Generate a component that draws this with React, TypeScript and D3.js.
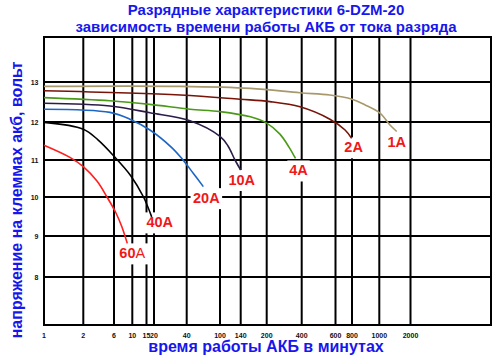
import React from "react";
import * as d3 from "d3";

// ---- data ----
const xTicks = [1, 2, 6, 10, 15, 20, 40, 100, 140, 200, 400, 600, 800, 1000, 2000];
const yTicks = [8, 9, 10, 11, 12, 13];

const t1A = [1, 35, 160, 387, 561, 800, 888, 1016, 1268, 1472];
const v1A = [12.89, 12.89, 12.84, 12.73, 12.675, 12.57, 12.43, 12.22, 11.92, 11.75];
const t2A = [1, 35, 138, 213, 387, 561, 709, 795];
const v2A = [12.78, 12.675, 12.57, 12.51, 12.38, 12.07, 11.79, 11.57];
const t4A = [1, 5.2, 17.1, 43.8, 100, 160, 200, 260, 311, 354];
const v4A = [12.61, 12.53, 12.44, 12.32, 12.26, 12.13, 11.97, 11.68, 11.34, 11.04];
const t10A = [1, 5.2, 17.1, 43.8, 100, 113.9, 127.6, 140];
const v10A = [12.47, 12.4, 12.23, 12.03, 11.62, 11.37, 11.0, 10.73];
const t20A = [1, 5.2, 9.34, 17.1, 29.3, 37, 47.6, 63.2];
const v20A = [12.32, 12.24, 12.07, 11.79, 11.32, 11.0, 10.65, 10.28];
const t40A = [1, 2, 3.38, 6, 9.62, 13.77, 18.3];
const v40A = [11.99, 11.81, 11.53, 11.1, 10.57, 10.0, 9.49];
const t60A = [1, 1.58, 2, 3.26, 4.67, 6.34, 7.49, 8.69];
const v60A = [11.39, 11.07, 10.82, 10.43, 10.0, 9.59, 9.23, 8.82];

const seriesNames = ["1A", "2A", "4A", "10A", "20A", "40A", "60A"];

// ---- layout / style ----
const xTickPx = [44, 83.3, 114, 132.3, 146.5, 154, 186.7, 220, 240.7, 266.7, 301.7, 335.5, 352, 379.3, 410.5];
const yTickPx = [277, 236, 197, 160, 122, 82];
const frame = { left: 44, right: 491, top: 37, bottom: 325 };
const colors = ["#a8996c", "#771408", "#4a9a18", "#2c1c48", "#1c66c6", "#000000", "#ff1e1e"];
const labelOffsets: [number, number][] = [
  [0, 15.5], [2, 14], [3, 17], [1, 15], [3, 16.5], [8, 10.5], [5, 15],
];
const BLUE = "#1717ec";
const RED = "#f01818";
const FONT = "'Liberation Sans', Arial, sans-serif";

const logX = d3.scaleLinear().domain(xTicks.map((v) => Math.log(v))).range(xTickPx);
const x = (v: number) => logX(Math.log(v));
const y = d3.scaleLinear().domain(yTicks).range(yTickPx);

const seriesT = [t1A, t2A, t4A, t10A, t20A, t40A, t60A];
const seriesV = [v1A, v2A, v4A, v10A, v20A, v40A, v60A];

const line = d3
  .line<[number, number]>()
  .x((d) => x(d[0]))
  .y((d) => y(d[1]))
  .curve(d3.curveCatmullRom.alpha(0.5));

export default function App() {
  const series = seriesNames.map((name, i) => ({
    name,
    color: colors[i],
    pts: seriesT[i].map((t, j) => [t, seriesV[i][j]] as [number, number]),
  }));

  const labels = series.map((s, i) => {
    const last = s.pts[s.pts.length - 1];
    const cx = x(last[0]) + labelOffsets[i][0];
    const by = y(last[1]) + labelOffsets[i][1];
    const w = s.name.length * 9.2;
    return { ...s, cx, by, w };
  });

  return (
    <svg
      width={500}
      height={358}
      style={{ position: "absolute", left: 0, top: 0, background: "#fff" }}
      fontFamily={FONT}
    >
      <rect x={0} y={0} width={500} height={358} fill="#fff" />
      {/* title */}
      <text x={266} y={15} textAnchor="middle" fontSize={15} fontWeight="bold" fill={BLUE}>
        Разрядные характеристики 6-DZM-20
      </text>
      <text x={266} y={31.5} textAnchor="middle" fontSize={15} fontWeight="bold" fill={BLUE}>
        зависимость времени работы АКБ от тока разряда
      </text>

      {/* grid */}
      {xTicks.map((t) => (
        <line key={"vx" + t} x1={x(t)} x2={x(t)} y1={frame.top} y2={frame.bottom} stroke="#000" strokeWidth={2} />
      ))}
      {yTicks.map((t) => (
        <line key={"hy" + t} x1={frame.left} x2={frame.right} y1={y(t)} y2={y(t)} stroke="#000" strokeWidth={2} />
      ))}
      <rect
        x={frame.left}
        y={frame.top}
        width={frame.right - frame.left}
        height={frame.bottom - frame.top}
        fill="none"
        stroke="#000"
        strokeWidth={2}
      />

      {/* tick labels */}
      {xTicks.map((t) => (
        <text key={"tx" + t} x={x(t)} y={337.5} textAnchor="middle" fontSize={7} fontWeight="bold" fill="#111">
          {String(t)}
        </text>
      ))}
      {yTicks.map((t) => (
        <text key={"ty" + t} x={38.5} y={y(t) + 2.5} textAnchor="end" fontSize={7} fontWeight="bold" fill="#111">
          {String(t)}
        </text>
      ))}

      {/* label backgrounds */}
      {labels.map((l) => (
        <rect key={"bg" + l.name} x={l.cx - l.w / 2 - 2} y={l.by - 15} width={l.w + 4} height={21} fill="#fff" />
      ))}

      {/* curves */}
      {series.map((s) => (
        <path key={s.name} d={line(s.pts) || ""} fill="none" stroke={s.color} strokeWidth={1.6} />
      ))}

      {/* labels */}
      {labels.map((l) =>
        l.name === "60A" ? (
          <text key={"lb" + l.name} x={l.cx} y={l.by} textAnchor="middle" fontSize={14.5} fill={RED}>
            <tspan fontWeight="bold">60</tspan>
            <tspan>A</tspan>
          </text>
        ) : (
          <text key={"lb" + l.name} x={l.cx} y={l.by} textAnchor="middle" fontSize={14.5} fontWeight="bold" fill={RED}>
            {l.name}
          </text>
        )
      )}

      {/* axis titles */}
      <text x={266} y={351.5} textAnchor="middle" fontSize={16} fontWeight="bold" fill={BLUE}>
        время работы АКБ в минутах
      </text>
      <text
        transform="translate(22,200) rotate(-90)"
        textAnchor="middle"
        fontSize={16}
        fontWeight="bold"
        fill={BLUE}
      >
        напряжение на клеммах акб, вольт
      </text>
    </svg>
  );
}
